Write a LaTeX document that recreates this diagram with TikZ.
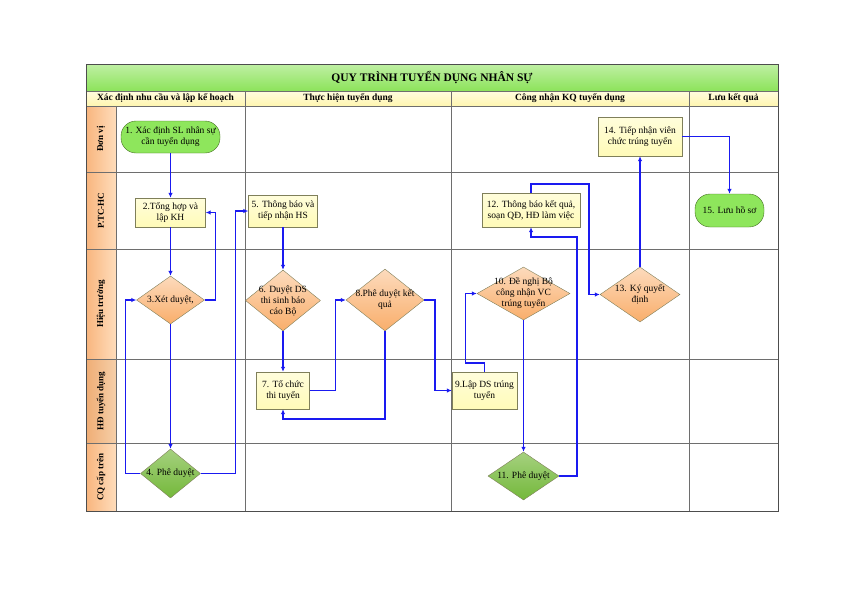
\documentclass[tikz,border=0pt]{standalone}
\usepackage{fontspec}
\setmainfont{Liberation Serif}
\usetikzlibrary{shapes.geometric,
	arrows.meta,
	positioning
}
\definecolor{titlegreen}{HTML}{8CE35A}
\definecolor{headyellow}{HTML}{FFF6B0}
\definecolor{lanedark}{HTML}{F8B57E}
\definecolor{lanelight}{HTML}{FFDDBB}
\definecolor{gridgray}{HTML}{6E6E6E}
\definecolor{boxyellow}{HTML}{FFFBB8}
\definecolor{boxline}{HTML}{7F7F5A}
\definecolor{diaorange}{HTML}{F9AE6B}
\definecolor{diagreen}{HTML}{74B83A}
\definecolor{termgreen}{HTML}{8EE65C}
\definecolor{flowblue}{HTML}{1A1AF0}
\tikzset{
	procbox/.style={rectangle, draw=boxline, top color=boxyellow!50!white, bottom color=boxyellow, inner xsep=1.5pt, align=center, font=\fontsize{9.5}{11}\selectfont},
	decision/.style={diamond, draw=boxline, top color=diaorange!45!white, bottom color=diaorange, inner sep=-4pt, aspect=1.4, align=center, font=\fontsize{9.5}{11}\selectfont},
	approve/.style={decision, top color=diagreen!65!white, bottom color=diagreen},
	terminal/.style={rectangle, rounded corners=15pt, draw=diagreen!60!black, fill=termgreen, align=center, font=\fontsize{9.5}{11}\selectfont},
	flow/.style={draw=flowblue, line width=1.5pt, -{Latex[length=5pt,width=4.5pt]}},
	lanelabel/.style={rotate=90, font=\bfseries\fontsize{9}{10}\selectfont},
	colhead/.style={font=\bfseries\fontsize{9.5}{11}\selectfont},
}

\begin{document}
\begin{tikzpicture}[x=1pt, y=-1pt]
\useasboundingbox (0,0) rectangle (842,595);

% table

\shade[top color=titlegreen!55!white, bottom color=titlegreen] (86,64) rectangle (778,91);
\shade[top color=headyellow!40!white, bottom color=headyellow] (86,91) rectangle (778,106);
\shade[left color=lanedark, right color=lanelight] (86,106) rectangle (116,359);
\shade[left color=lanedark!85!brown, right color=lanelight!85!brown] (86,359) rectangle (116,443);
\shade[left color=lanedark, right color=lanelight] (86,443) rectangle (116,511);

\foreach \y in {91,106,172,249,359,443}
	\draw[gridgray, line width=0.7pt] (86,\y) -- (778,\y);
\draw[gridgray, line width=0.7pt] (116,106) -- (116,511);
\foreach \x in {245,451,689}
	\draw[gridgray, line width=0.7pt] (\x,91) -- (\x,511);
\draw[gridgray!70!black, line width=1pt] (86,64) rectangle (778,511);

\node[font=\bfseries\fontsize{11.5}{13}\selectfont] (title) at (432,77.5) {QUY TRÌNH TUYỂN DỤNG NHÂN SỰ};

\node[colhead] (h1) at (165.5,98.5) {Xác định nhu cầu và lập kế hoạch};
\node[colhead] (h2) at (348,98.5) {Thực hiện tuyển dụng};
\node[colhead] (h3) at (570,98.5) {Công nhận KQ tuyển dụng};
\node[colhead] (h4) at (733.5,98.5) {Lưu kết quả};

\node[lanelabel] (l1) at (101,139) {Đơn vị};
\node[lanelabel] (l2) at (101,210.5) {P.TC-HC};
\node[lanelabel] (l3) at (101,304) {Hiệu trưởng};
\node[lanelabel] (l4) at (101,401) {HĐ tuyển dụng};
\node[lanelabel] (l5) at (101,477) {CQ cấp trên};

% graph

\node[terminal, minimum width=99pt, minimum height=32pt] (n1) at (170.5,137) {1. Xác định SL nhân sự\\cần tuyển dụng};
\node[procbox, minimum width=70pt, minimum height=29pt] (n2) at (170.5,212.5) {2.Tổng hợp và\\lập KH};
\node[decision, minimum width=68pt, minimum height=48pt] (n3) at (170.5,300) {3.Xét duyệt,};
\node[approve, minimum width=60pt, minimum height=49pt] (n4) at (170.5,473.5) {4. Phê duyệt};

\node[procbox, minimum width=69pt, minimum height=32pt] (n5) at (283,211) {5. Thông báo và\\tiếp nhận HS};
\node[decision, minimum width=75pt, minimum height=61pt] (n6) at (283,300.5) {6. Duyệt DS\\thi sinh báo\\cáo Bộ};
\node[procbox, minimum width=53pt, minimum height=37pt] (n7) at (283,390.5) {7. Tổ chức\\thi tuyển};
\node[decision, minimum width=78pt, minimum height=62pt] (n8) at (385,300) {8.Phê duyệt kết\\quả};

\node[procbox, minimum width=65pt, minimum height=37pt] (n9) at (484.5,390.5) {9.Lập DS trúng\\tuyển};
\node[decision, aspect=1.75, minimum width=93pt, minimum height=53pt] (n10) at (523.5,293.5) {10. Đề nghị Bộ\\công nhận VC\\trúng tuyển};
\node[approve, minimum width=71pt, minimum height=48pt] (n11) at (523.5,476) {11. Phê duyệt};
\node[procbox, minimum width=98pt, minimum height=34pt] (n12) at (531,210) {12. Thông báo kết quả,\\soạn QĐ, HĐ làm việc};
\node[decision, minimum width=80pt, minimum height=55pt] (n13) at (640,294.5) {13. Ký quyết\\định};
\node[procbox, minimum width=84pt, minimum height=39pt] (n14) at (640,136.5) {14. Tiếp nhận viên\\chức trúng tuyển};

\node[terminal, minimum width=69pt, minimum height=33pt] (n15) at (729.5,210.5) {15. Lưu hồ sơ};

% connections

\draw[flow] (n1.south) -- (n2.north);
\draw[flow] (n2.south) -- (n3.north);
\draw[flow] (n3.south) -- (n4.north);
\draw[flow] (n3.east) -- ++(11,0) |- (n2.east);
\draw[flow] (n4.west) -- ++(-15,0) |- (n3.west);
\draw[flow] (n4.east) -- ++(35,0) |- (n5.west);

\draw[flow] (n5.south) -- (n6.north);
\draw[flow] (n6.south) -- (n7.north);
\draw[flow] (n7.east) -- ++(26,0) |- (n8.west);
\draw[flow] (n8.south) -- ++(0,88) -| (n7.south);
\draw[flow] (n8.east) -- ++(11,0) |- (n9.west);

\draw[flow] (n9.north) -- ++(0,-9) -- ++(-19,0) |- (n10.west);
\draw[flow] (n10.south) -- (n11.north);
\draw[flow] (n11.east) -- ++(18,0) -- ++(0,-239) -| (n12.south);
\draw[flow] (n12.north) -- ++(0,-9) -- ++(58,0) |- (n13.west);
\draw[flow] (n13.north) -- (n14.south);
\draw[flow] (n14.east) -| (n15.north);

\end{tikzpicture}
\end{document}
